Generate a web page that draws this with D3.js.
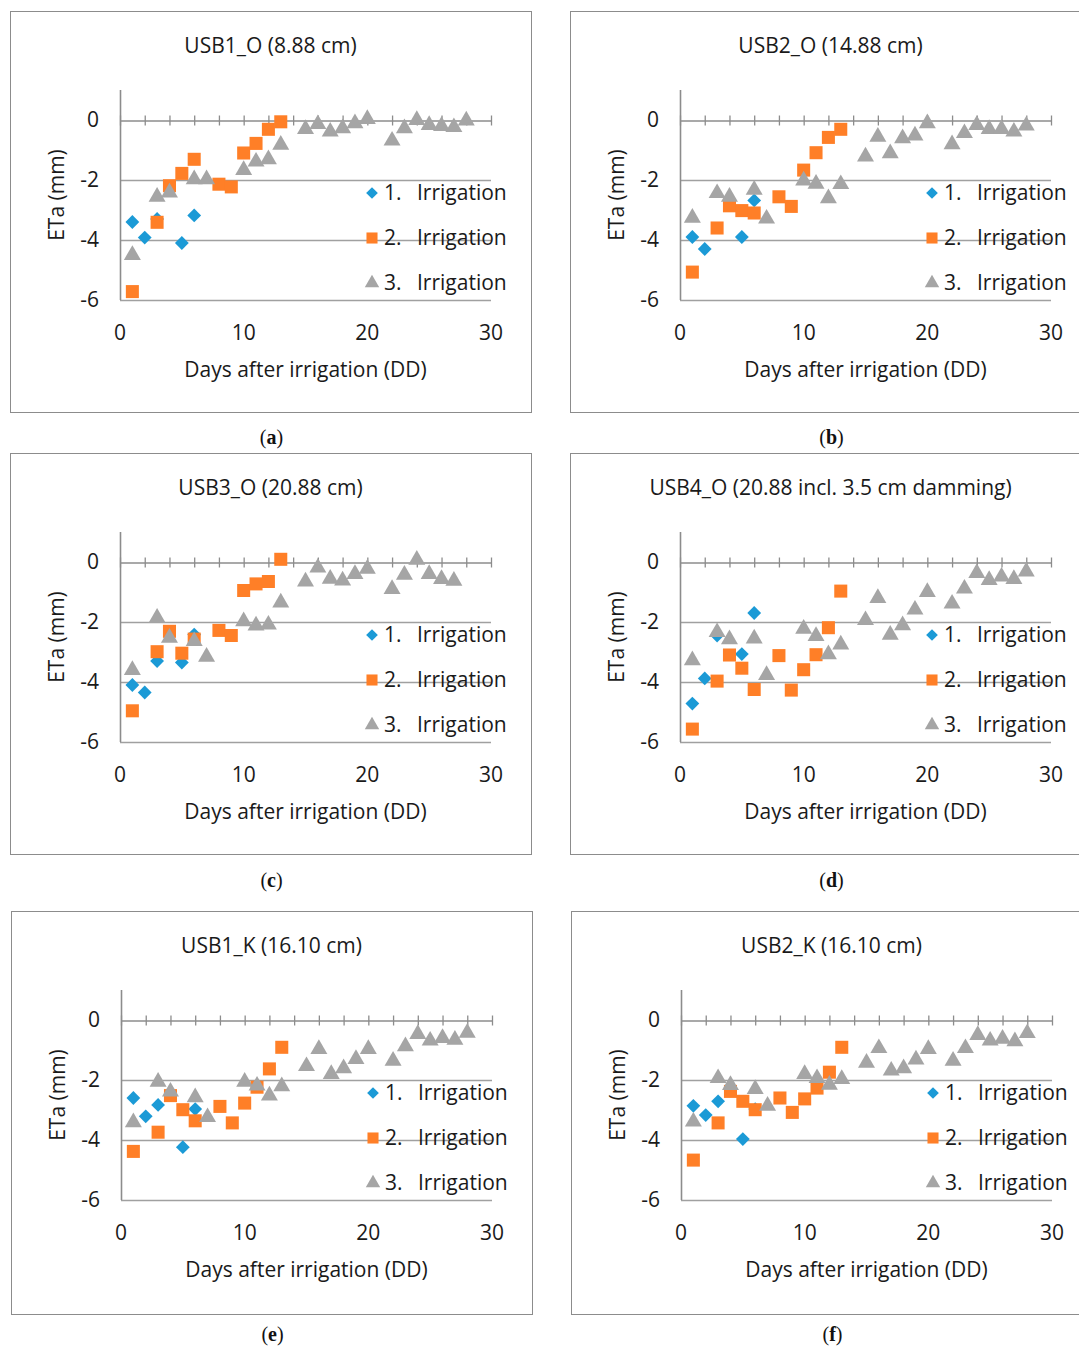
<!DOCTYPE html>
<html>
<head>
<meta charset="utf-8">
<script src="https://cdn.jsdelivr.net/npm/d3@7"></script>
<style>
  body { margin: 0; background: #fff; }
  svg { display: block; }
  .lbl { font-family: "Open Sans", sans-serif; fill: #1a1a1a; font-size: 21px; }
</style>
</head>
<body>
<div id="chart"></div>
<script>
// panels
var panelTitles = ["USB1_O (8.88 cm)", "USB2_O (14.88 cm)", "USB3_O (20.88 cm)",
                   "USB4_O (20.88 incl. 3.5 cm damming)", "USB1_K (16.10 cm)", "USB2_K (16.10 cm)"];
var panelLetters = ["a", "b", "c", "d", "e", "f"];
var seriesNames = ["1.", "2.", "3."];
var seriesWord = "Irrigation";
var xTicks = [0, 10, 20, 30];
var yTicks = [0, -2, -4, -6];

var days1 = [1, 2, 3, 5, 6];
var days2 = [1, 3, 4, 5, 6, 8, 9, 10, 11, 12, 13];
var days3 = [1, 3, 4, 6, 7, 10, 11, 12, 13, 15, 16, 17, 18, 19, 20, 22, 23, 24, 25, 26, 27, 28];

// 1. Irrigation (blue)
var eta1 = [
  [-3.40, -3.92, -3.30, -4.10, -3.18],
  [-3.90, -4.30, null, -3.90, -2.68],
  [-4.10, -4.35, -3.30, -3.35, -2.42],
  [-4.72, -3.88, -2.45, -3.07, -1.70],
  [-2.60, -3.21, -2.83, -4.24, -2.97],
  [-2.86, -3.17, -2.71, -3.97, -2.97]
];
// 2. Irrigation (orange)
var eta2 = [
  [-5.72, -3.41, -2.19, -1.78, -1.31, -2.14, -2.23, -1.10, -0.78, -0.31, -0.06],
  [-5.07, -3.60, -2.86, -3.02, -3.10, -2.56, -2.88, -1.67, -1.09, -0.58, -0.31],
  [-4.96, -2.99, -2.31, -3.04, -2.57, -2.28, -2.45, -0.95, -0.73, -0.65, 0.09],
  [-5.57, -3.97, -3.10, -3.54, -4.25, -3.12, -4.27, -3.59, -3.09, -2.19, -0.97],
  [-4.38, -3.74, -2.52, -2.99, -3.36, -2.88, -3.43, -2.77, -2.24, -1.63, -0.91],
  [-4.67, -3.43, -2.38, -2.71, -2.99, -2.60, -3.08, -2.63, -2.27, -1.74, -0.91]
];
// 3. Irrigation (grey)
var eta3 = [
  [-4.50, -2.56, -2.42, -1.98, -1.98, -1.67, -1.39, -1.31, -0.83, -0.30, -0.14, -0.39, -0.28, -0.11, 0.03, -0.69, -0.28, 0.00, -0.17, -0.20, -0.24, -0.02],
  [-3.26, -2.44, -2.56, -2.33, -3.29, -2.02, -2.13, -2.61, -2.14, -1.22, -0.56, -1.11, -0.61, -0.52, -0.11, -0.81, -0.44, -0.17, -0.30, -0.30, -0.39, -0.19],
  [-3.60, -1.86, -2.53, -2.64, -3.16, -1.98, -2.12, -2.09, -1.35, -0.65, -0.19, -0.56, -0.62, -0.40, -0.23, -0.90, -0.43, 0.07, -0.40, -0.57, -0.63, null],
  [-3.28, -2.34, -2.58, -2.55, -3.77, -2.23, -2.47, -3.08, -2.75, -1.94, -1.20, -2.43, -2.11, -1.59, -1.00, -1.39, -0.89, -0.37, -0.60, -0.49, -0.57, -0.32],
  [-3.41, -2.06, -2.39, -2.58, -3.24, -2.06, -2.19, -2.52, -2.21, -1.54, -0.97, -1.80, -1.61, -1.30, -0.97, -1.36, -0.88, -0.47, -0.69, -0.60, -0.66, -0.43],
  [-3.39, -1.94, -2.17, -2.30, -2.86, -1.80, -1.94, -2.16, -1.97, -1.43, -0.94, -1.69, -1.61, -1.32, -0.97, -1.36, -0.94, -0.50, -0.69, -0.63, -0.71, -0.44]
];

var width = 1079, height = 1347;
var colors = ["#1b9ad6", "#ff7f27", "#a5a5a5"];
var shapes = [d3.symbolSquare, d3.symbolSquare, d3.symbolTriangle];
var symSize = [95, 170, 125];
var symRot = [45, 0, 0];
var colX = [10, 570], rowY = [12, 454, 912];
var capY = [437, 880, 1334];
var boxW = 521, boxH = 401;
var plot = {left: 110, top: 78, w: 371, h: 210};

var svg = d3.select("#chart").append("svg")
  .attr("width", width)
  .attr("height", height);

var x = d3.scaleLinear().domain([0, 30]).range([0, plot.w]);
var y = d3.scaleLinear().domain([-6, 1]).range([plot.h, 0]);

panelTitles.forEach(function(title, p) {
  var row = Math.floor(p / 2);
  var bx = colX[p % 2] + (p >= 4 ? 1 : 0), by = rowY[row];
  var panel = svg.append("g").attr("transform", "translate(" + bx + "," + by + ")");

  panel.append("rect")
    .attr("x", 0.5).attr("y", -0.5)
    .attr("width", boxW).attr("height", boxH + (row == 2 ? 2 : 0))
    .attr("fill", "none").attr("stroke", "#8c8c8c");

  panel.append("text").attr("class", "lbl")
    .attr("x", boxW / 2).attr("y", 34).attr("dy", "0.35em")
    .attr("text-anchor", "middle")
    .text(title);

  var g = panel.append("g").attr("transform", "translate(" + plot.left + "," + plot.top + ")");

  // gridlines
  g.selectAll(".grid").data([-2, -4, -6]).enter().append("line")
    .attr("x1", 0).attr("x2", x(30))
    .attr("y1", function(d) { return Math.round(y(d)) + 0.5; })
    .attr("y2", function(d) { return Math.round(y(d)) + 0.5; })
    .attr("stroke", "#a0a0a0").attr("stroke-width", 1.3);

  // y axis
  g.append("line").attr("x1", 0.5).attr("x2", 0.5).attr("y1", 0).attr("y2", plot.h)
    .attr("stroke", "#8c8c8c").attr("stroke-width", 1.6);
  g.selectAll(".ylab").data(yTicks).enter().append("text").attr("class", "lbl")
    .attr("x", -21).attr("y", function(d) { return y(d); }).attr("dy", "0.35em")
    .attr("text-anchor", "end")
    .text(function(d) { return d; });

  // x axis along zero, labels low
  var xa = g.append("g").attr("transform", "translate(0," + (Math.round(y(0)) + 0.5) + ")")
    .call(d3.axisBottom(x).tickValues(d3.range(0, 31, 2)).tickSize(10).tickSizeOuter(0).tickFormat(""));
  xa.select(".domain").attr("stroke", "#8c8c8c").attr("stroke-width", 1.6);
  xa.selectAll(".tick line").attr("y1", -5).attr("y2", 5).attr("stroke", "#8c8c8c").attr("stroke-width", 1.3);

  g.selectAll(".xlab").data(xTicks).enter().append("text").attr("class", "lbl")
    .attr("x", function(d) { return x(d); }).attr("y", plot.h + 33).attr("dy", "0.35em")
    .attr("text-anchor", "middle")
    .text(function(d) { return d; });

  panel.append("text").attr("class", "lbl")
    .attr("x", plot.left + plot.w / 2).attr("y", 358).attr("dy", "0.35em")
    .attr("text-anchor", "middle")
    .text("Days after irrigation (DD)");

  panel.append("text").attr("class", "lbl")
    .attr("transform", "translate(47," + (plot.top + plot.h / 2) + ") rotate(-90)")
    .attr("dy", "0.35em").attr("text-anchor", "middle")
    .text("ETa (mm)");

  // points
  var sets = [[days1, eta1[p]], [days2, eta2[p]], [days3, eta3[p]]];
  sets.forEach(function(s, k) {
    var pts = s[0].map(function(d, i) { return {d: d, v: s[1][i]}; })
      .filter(function(o) { return o.v !== null; });
    g.selectAll(".s" + k).data(pts).enter().append("path")
      .attr("transform", function(o) { return "translate(" + x(o.d) + "," + y(o.v) + ") rotate(" + symRot[k] + ")"; })
      .attr("d", d3.symbol().type(shapes[k]).size(symSize[k]))
      .attr("fill", colors[k]);
  });

  // legend
  var lg = panel.selectAll(".leg").data(seriesNames).enter().append("g")
    .attr("transform", function(d, i) { return "translate(362," + (181 + i * 45) + ")"; });
  lg.append("path")
    .attr("transform", function(d, i) { return "rotate(" + symRot[i] + ")"; })
    .attr("d", function(d, i) { return d3.symbol().type(shapes[i]).size(symSize[i] * 0.72)(); })
    .attr("fill", function(d, i) { return colors[i]; });
  var lt = lg.append("text").attr("class", "lbl").attr("y", 0).attr("dy", "0.35em");
  lt.append("tspan").attr("x", 12).text(function(d) { return d; });
  lt.append("tspan").attr("x", 45).text(seriesWord);

  // caption
  var cap = svg.append("text")
    .attr("x", bx + boxW / 2 + 1).attr("y", capY[row]).attr("dy", "0.35em")
    .attr("text-anchor", "middle")
    .style("font-family", "'Liberation Serif', serif").style("font-size", "20px").style("fill", "#111");
  cap.append("tspan").text("(");
  cap.append("tspan").style("font-weight", "bold").text(panelLetters[p]);
  cap.append("tspan").text(")");
});
</script>
</body>
</html>
